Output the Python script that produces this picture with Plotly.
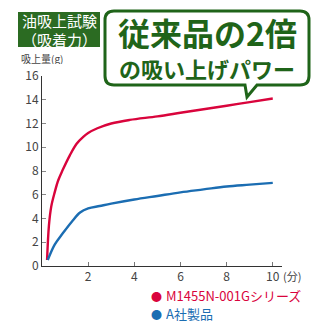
import plotly.graph_objects as go

# Data
red_name = "M1455N-001Gシリーズ"
blue_name = "A社製品"
red_x = [0.22, 0.3, 0.4, 0.55, 0.7, 0.9, 1.2, 1.5, 1.8, 2.0, 2.4, 3.0, 3.8, 5, 6, 7, 8, 9, 10]
red_y = [0.5, 3.4, 5.0, 6.2, 7.2, 8.1, 9.3, 10.3, 10.9, 11.2, 11.6, 12.0, 12.3, 12.6, 12.9, 13.2, 13.5, 13.8, 14.1]
blue_x = [0.25, 0.55, 0.9, 1.3, 1.65, 2.0, 2.5, 3.0, 4.0, 5, 6, 7, 8, 9, 10]
blue_y = [0.5, 1.8, 2.75, 3.75, 4.5, 4.85, 5.05, 5.25, 5.6, 5.9, 6.2, 6.45, 6.7, 6.85, 7.0]
x_ticks = [2, 4, 6, 8, 10]
y_ticks = [0, 2, 4, 6, 8, 10, 12, 14, 16]

RED = "#d9043c"
BLUE = "#1b6db2"
GREEN = "#1f6419"
BOXGREEN = "#2b6b22"
FONT = "Noto Sans CJK JP"

W, H = 330, 330
ML, MR, MT, MB = 42, 48, 76, 64
PW, PH = W - ML - MR, H - MT - MB

def px(x):
    return (x - ML) / PW

def py(y):
    return (H - MB - y) / PH

fig = go.Figure()
fig.add_trace(go.Scatter(x=red_x, y=red_y, mode="lines", line=dict(color=RED, width=2.4, shape="spline", smoothing=1.0), name=red_name, showlegend=False))
fig.add_trace(go.Scatter(x=blue_x, y=blue_y, mode="lines", line=dict(color=BLUE, width=2.4, shape="spline", smoothing=1.0), name=blue_name, showlegend=False))

fig.update_xaxes(range=[0, 10.4], tickvals=x_ticks, ticktext=[str(v) for v in x_ticks],
                 showline=True, linecolor="#333", linewidth=1, ticks="inside", ticklen=4, tickcolor="#777",
                 showgrid=False, zeroline=False, tickfont=dict(family=FONT, size=12, color="#444"))
fig.update_yaxes(range=[0, 16], tickvals=y_ticks, ticktext=[str(v) for v in y_ticks],
                 showline=True, linecolor="#333", linewidth=1, ticks="inside", ticklen=4, tickcolor="#888",
                 showgrid=False, zeroline=False, tickfont=dict(family=FONT, size=12, color="#444"))

shapes = []
# green title box
shapes.append(dict(type="rect", xref="paper", yref="paper", x0=px(18), x1=px(100), y0=py(47), y1=py(12),
                   fillcolor=BOXGREEN, line=dict(width=0), layer="above"))
# speech bubble
L, R, T, B, r = 105, 309, 11, 85, 9
path = (f"M {px(L+r)},{py(T)} L {px(R-r)},{py(T)} Q {px(R)},{py(T)} {px(R)},{py(T+r)} "
        f"L {px(R)},{py(B-r)} Q {px(R)},{py(B)} {px(R-r)},{py(B)} "
        f"L {px(257)},{py(B)} L {px(247)},{py(97)} L {px(245)},{py(B)} "
        f"L {px(L+r)},{py(B)} Q {px(L)},{py(B)} {px(L)},{py(B-r)} "
        f"L {px(L)},{py(T+r)} Q {px(L)},{py(T)} {px(L+r)},{py(T)} Z")
shapes.append(dict(type="path", xref="paper", yref="paper", path=path, fillcolor="white",
                   line=dict(color=GREEN, width=3), layer="above"))

ann = []
ann.append(dict(x=px(59), y=py(29.5), xref="paper", yref="paper", text="油吸上試験<br>（吸着力）",
                showarrow=False, font=dict(family=FONT, size=15, color="white"), xanchor="center", yanchor="middle",
                align="center", height=34))
ann.append(dict(x=px(207), y=py(32), xref="paper", yref="paper", text="<b>従来品の2倍</b>",
                showarrow=False, font=dict(family=FONT, size=32, color=GREEN, weight=900), xanchor="center", yanchor="middle",
                height=34))
ann.append(dict(x=px(207), y=py(68), xref="paper", yref="paper", text="<b>の吸い上げパワー</b>",
                showarrow=False, font=dict(family=FONT, size=22, color=GREEN, weight=900), xanchor="center", yanchor="middle",
                height=24))
ann.append(dict(x=px(19), y=py(59), xref="paper", yref="paper", text="吸上量(g)",
                showarrow=False, font=dict(family=FONT, size=10, color="#444"), xanchor="left", yanchor="middle",
                height=11))
ann.append(dict(x=px(281), y=py(276), xref="paper", yref="paper", text="(分)",
                showarrow=False, font=dict(family=FONT, size=11, color="#444"), xanchor="left", yanchor="middle"))
# legend
ann.append(dict(x=px(149), y=py(295.5), xref="paper", yref="paper", text="●",
                showarrow=False, font=dict(family=FONT, size=11, color=RED), xanchor="left", yanchor="middle", height=14))
ann.append(dict(x=px(164), y=py(295.5), xref="paper", yref="paper", text=red_name,
                showarrow=False, font=dict(family=FONT, size=13, color=RED), xanchor="left", yanchor="middle", height=15))
ann.append(dict(x=px(149), y=py(313.5), xref="paper", yref="paper", text="●",
                showarrow=False, font=dict(family=FONT, size=11, color=BLUE), xanchor="left", yanchor="middle", height=14))
ann.append(dict(x=px(164), y=py(313.5), xref="paper", yref="paper", text=blue_name,
                showarrow=False, font=dict(family=FONT, size=13, color=BLUE), xanchor="left", yanchor="middle", height=15))

fig.update_layout(width=W, height=H, margin=dict(l=ML, r=MR, t=MT, b=MB, autoexpand=False),
                  paper_bgcolor="white", plot_bgcolor="white", showlegend=False,
                  shapes=shapes, annotations=ann)

fig.write_html("out.html", config={"displayModeBar": False})
